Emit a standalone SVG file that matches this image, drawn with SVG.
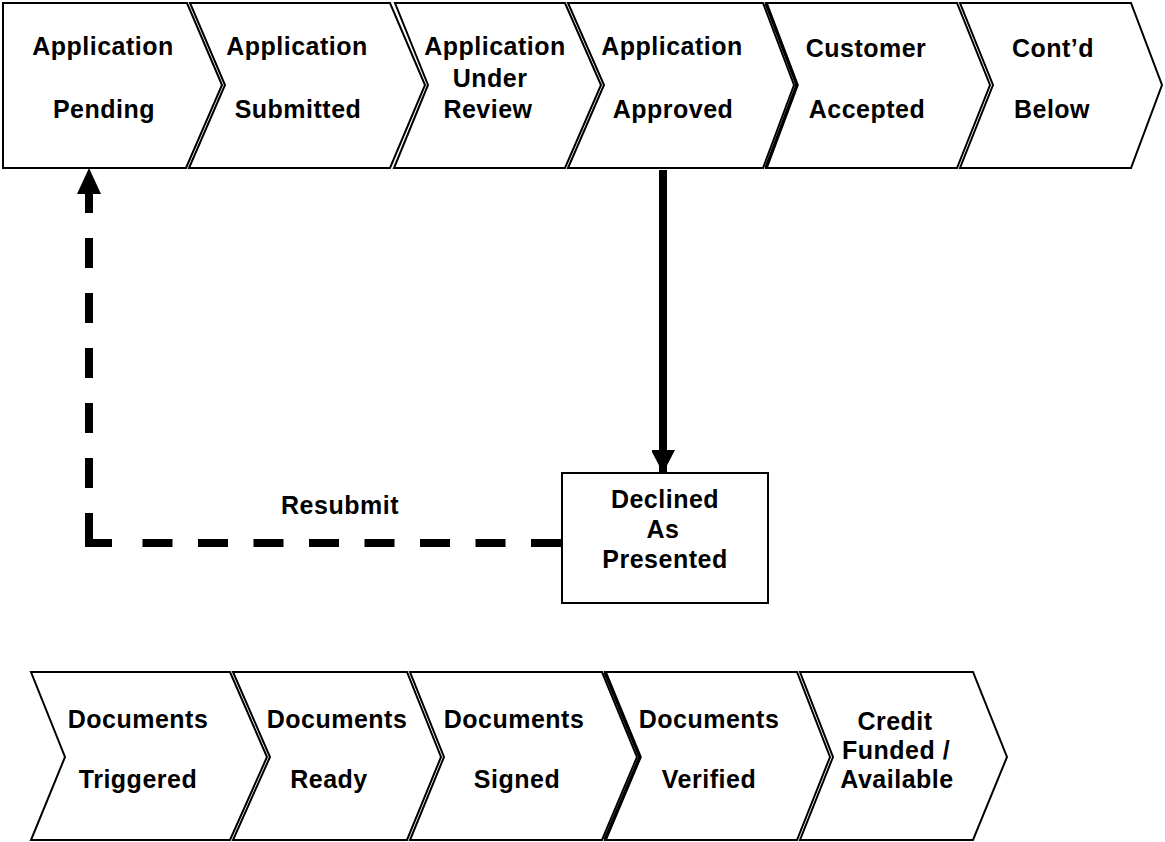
<svg xmlns="http://www.w3.org/2000/svg" width="1165" height="842" viewBox="0 0 1165 842">
<style>
.shape{fill:#fff;stroke:#000;stroke-width:2;stroke-linejoin:miter}
text{font-family:"Liberation Sans",Arial,sans-serif;font-weight:bold;font-size:25px;letter-spacing:0.5px;text-anchor:middle;fill:#000}
.dash{fill:none;stroke:#000;stroke-width:8}
</style>
<defs>
<marker id="ah" viewBox="0 0 24 22" refX="23" refY="12" markerWidth="24" markerHeight="24" markerUnits="userSpaceOnUse" orient="auto">
<path d="M0,0 L23,12 L0,24 Z" fill="#000"/>
</marker>
</defs>
<rect width="1165" height="842" fill="#fff"/>
<g id="n-app-pending"><path class="shape" d="M3,3 H187 L222,85 L186,168 H3 Z"/><text x="103" y="55">Application</text><text x="104" y="118">Pending</text></g>
<g id="n-app-submitted"><path class="shape" d="M190,3 H390 L425,85 L390,168 H189 L225,85 Z"/><text x="297" y="55">Application</text><text x="298" y="118">Submitted</text></g>
<g id="n-app-review"><path class="shape" d="M395,3 H565 L601,85 L565,168 H394 L428,85 Z"/><text x="495" y="55">Application</text><text x="490" y="87">Under</text><text x="488" y="118">Review</text></g>
<g id="n-app-approved"><path class="shape" d="M568,3 H763 L794,85 L763,168 H568 L604,85 Z"/><text x="672" y="55">Application</text><text x="673" y="118">Approved</text></g>
<g id="n-cust-accepted"><path class="shape" d="M766,3 H957 L990,85 L957,168 H766 L797,85 Z"/><path d="M766,3 L797,85 L766,168" fill="none" stroke="#000" stroke-width="3.5"/><text x="866" y="57">Customer</text><text x="867" y="118">Accepted</text></g>
<g id="n-contd"><path class="shape" d="M960,3 H1131 L1162,85 L1131,168 H960 L993,85 Z"/><text x="1053" y="57">Cont’d</text><text x="1052" y="118">Below</text></g>
<g id="n-declined"><rect class="shape" x="562" y="473" width="206" height="130"/><text x="665" y="508">Declined</text><text x="663" y="538">As</text><text x="665" y="568">Presented</text></g>
<g id="n-doc-triggered"><path class="shape" d="M31,672 H230 L267,757 L230,840 H31 L65,757 Z"/><text x="138" y="728">Documents</text><text x="138" y="788">Triggered</text></g>
<g id="n-doc-ready"><path class="shape" d="M233,672 H407 L441,757 L407,840 H233 L270,757 Z"/><text x="337" y="728">Documents</text><text x="329" y="788">Ready</text></g>
<g id="n-doc-signed"><path class="shape" d="M410,672 H602 L637,757 L602,840 H410 L444,757 Z"/><text x="514" y="728">Documents</text><text x="517" y="788">Signed</text></g>
<g id="n-doc-verified"><path class="shape" d="M605,672 H797 L830,757 L797,840 H605 L640,757 Z"/><path d="M605,672 L640,757 L605,840" fill="none" stroke="#000" stroke-width="3.5"/><text x="709" y="728">Documents</text><text x="709" y="788">Verified</text></g>
<g id="n-credit-funded"><path class="shape" d="M800,672 H973 L1007,757 L973,840 H800 L833,757 Z"/><text x="895" y="730">Credit</text><text x="896" y="759">Funded /</text><text x="897" y="788">Available</text></g>
<g id="connectors">
<path d="M663,170 V473" fill="none" stroke="#000" stroke-width="8" marker-end="url(#ah)"/>
<path class="dash" d="M561,543 H131" stroke-dasharray="30 25.5"/>
<path class="dash" d="M112,543 H89 V513" stroke-linejoin="miter"/>
<path class="dash" d="M89,513 V194" stroke-dasharray="30 25" stroke-dashoffset="30"/>
<path d="M89,168 L101,194 L77,194 Z" fill="#000"/>
<text x="340" y="514">Resubmit</text>
</g>
</svg>
